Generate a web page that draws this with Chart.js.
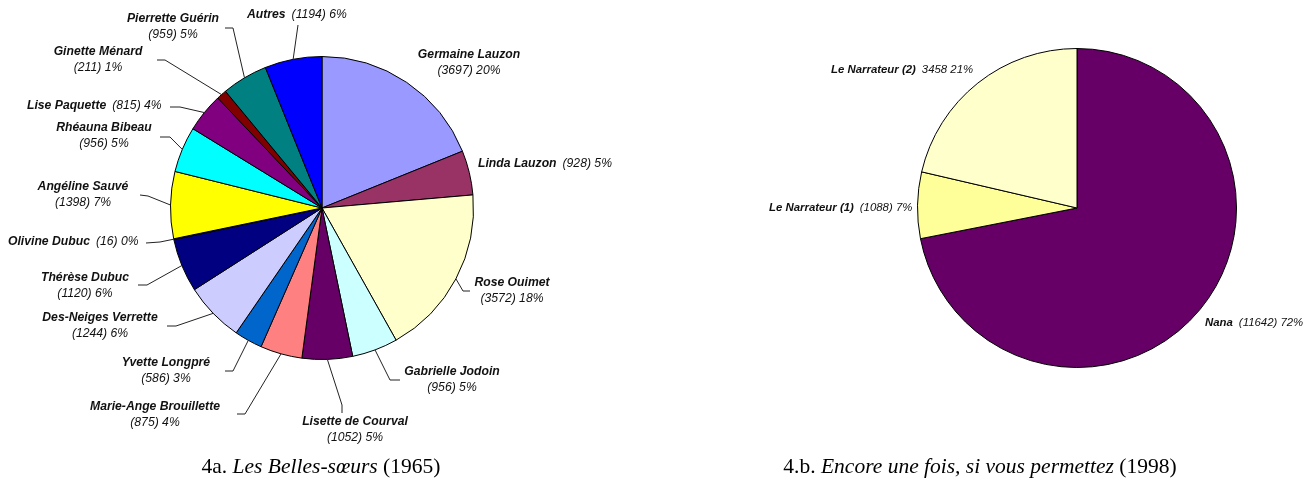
<!DOCTYPE html>
<html>
<head>
<meta charset="utf-8">
<script src="https://cdn.jsdelivr.net/npm/chart.js@4/dist/chart.umd.min.js"></script>
<style>
  html, body { margin: 0; padding: 0; background: #fff; }
  #wrap { position: relative; width: 1307px; height: 483px; overflow: hidden; }
  .box { position: absolute; top: 0; height: 483px; }
  .caption {
    position: absolute; top: 454px; font-family: "Liberation Serif", "DejaVu Serif", serif;
    font-size: 21.5px; color: #000; white-space: nowrap; transform: translateX(-50%);
  }
  .caption i { font-style: italic; }
</style>
</head>
<body>
<div id="wrap">
  <div class="box" style="left:0;width:653px"><canvas id="left"></canvas></div>
  <div class="box" style="left:653px;width:654px"><canvas id="right"></canvas></div>
  <div class="caption" style="left:321px">4a. <i>Les Belles-sœurs</i> (1965)</div>
  <div class="caption" style="left:980px">4.b. <i>Encore une fois, si vous permettez</i> (1998)</div>
</div>
<script>
// ── Data ───────────────────────────────────────────────────

const leftNames = [
  'Germaine Lauzon', 'Linda Lauzon', 'Rose Ouimet', 'Gabrielle Jodoin',
  'Lisette de Courval', 'Marie-Ange Brouillette', 'Yvette Longpré',
  'Des-Neiges Verrette', 'Thérèse Dubuc', 'Olivine Dubuc', 'Angéline Sauvé',
  'Rhéauna Bibeau', 'Lise Paquette', 'Ginette Ménard', 'Pierrette Guérin', 'Autres',
];
const leftValues = [3697, 928, 3572, 956, 1052, 875, 586, 1244, 1120, 16, 1398, 956, 815, 211, 959, 1194];
const leftPcts = [20, 5, 18, 5, 5, 4, 3, 6, 6, 0, 7, 5, 4, 1, 5, 6];
const leftColors = [
  '#9999ff', '#993366', '#ffffcc', '#ccffff', '#660066', '#ff8080', '#0066cc', '#ccccff',
  '#000080', '#ff00ff', '#ffff00', '#00ffff', '#800080', '#800000', '#008080', '#0000ff',
];

const rightNames = ['Nana', 'Le Narrateur (1)', 'Le Narrateur (2)'];
const rightValues = [11642, 1088, 3458];
const rightPcts = [72, 7, 21];
const rightColors = ['#660066', '#ffff99', '#ffffcc'];

// ── Label layout (page coordinates) ───────────────────────
// two: centred name / value lines; one: single line starting at x
// lead: elbow points from the label side towards the slice edge

const leftLayout = [
  { two: true, x: 469, y: 55 },
  { one: true, x: 478, y: 164 },
  { two: true, x: 512, y: 283, lead: [[470, 291], [463, 291]] },
  { two: true, x: 452, y: 372, lead: [[400, 380], [390, 380]] },
  { two: true, x: 355, y: 422, lead: [[342, 413], [342, 405]] },
  { two: true, x: 155, y: 407, lead: [[237, 414], [245, 414]] },
  { two: true, x: 166, y: 363, lead: [[225, 371], [233, 371]] },
  { two: true, x: 100, y: 318, lead: [[167, 326], [176, 326]] },
  { two: true, x: 85, y: 278, lead: [[138, 285], [147, 285]] },
  { one: true, x: 8, y: 242, lead: [[146, 243], [160, 242]] },
  { two: true, x: 83, y: 187, lead: [[140, 195], [148, 196]] },
  { two: true, x: 104, y: 128, lead: [[160, 137], [170, 137]] },
  { one: true, x: 27, y: 106, lead: [[170, 107], [180, 107]] },
  { two: true, x: 98, y: 52, lead: [[157, 60], [165, 60]] },
  { two: true, x: 173, y: 19, lead: [[225, 28], [233, 28]] },
  { one: true, x: 247, y: 15, lead: [[298, 25]] },
];

const rightLayout = [
  { one: true, x: 1205, y: 323 },
  { one: true, x: 769, y: 208 },
  { one: true, x: 831, y: 70, bare: true },
];

// ── Label plugin ───────────────────────────────────────────

const FONT_FAMILY = '"Liberation Sans", Arial, sans-serif';

const pieLabels = {
  id: 'pieLabels',
  afterDraw(chart, args, opts) {
    const ctx = chart.ctx;
    const meta = chart.getDatasetMeta(0);
    const off = opts.offsetX;
    const values = chart.data.datasets[0].data;
    const nameFont = `italic bold ${opts.size}px ${FONT_FAMILY}`;
    const valFont = `italic ${opts.size}px ${FONT_FAMILY}`;
    ctx.save();
    ctx.fillStyle = '#111';
    ctx.strokeStyle = '#222';
    ctx.lineWidth = 1;
    ctx.textBaseline = 'middle';
    opts.layout.forEach((lay, i) => {
      const arc = meta.data[i];
      const name = opts.names[i];
      const val = lay.bare ? `${values[i]} ${opts.pcts[i]}%` : `(${values[i]}) ${opts.pcts[i]}%`;

      if (lay.lead) {
        const mid = (arc.startAngle + arc.endAngle) / 2;
        const ax = arc.x + Math.cos(mid) * arc.outerRadius;
        const ay = arc.y + Math.sin(mid) * arc.outerRadius;
        ctx.beginPath();
        ctx.moveTo(lay.lead[0][0] - off, lay.lead[0][1]);
        lay.lead.slice(1).forEach(p => ctx.lineTo(p[0] - off, p[1]));
        ctx.lineTo(ax, ay);
        ctx.stroke();
      }

      if (lay.two) {
        ctx.textAlign = 'center';
        ctx.font = nameFont;
        ctx.fillText(name, lay.x - off, lay.y);
        ctx.font = valFont;
        ctx.fillText(val, lay.x - off, lay.y + 16);
      } else {
        ctx.textAlign = 'left';
        ctx.font = nameFont;
        ctx.fillText(name, lay.x - off, lay.y);
        const w = ctx.measureText(name).width;
        ctx.font = valFont;
        ctx.fillText(val, lay.x - off + w + 6, lay.y);
      }
    });
    ctx.restore();
  },
};

function makePie(id, names, values, pcts, colors, layout, offsetX, size, padding) {
  return new Chart(document.getElementById(id), {
    type: 'pie',
    data: {
      labels: names,
      datasets: [{
        data: values,
        backgroundColor: colors,
        borderColor: '#000',
        borderWidth: 1,
        hoverOffset: 0,
      }],
    },
    options: {
      responsive: true,
      maintainAspectRatio: false,
      animation: false,
      layout: { padding },
      plugins: {
        legend: { display: false },
        tooltip: { enabled: false },
        pieLabels: { layout, names, pcts, offsetX, size },
      },
    },
    plugins: [pieLabels],
  });
}

makePie('left', leftNames, leftValues, leftPcts, leftColors, leftLayout, 0, 12.2,
  { left: 170, right: 179, top: 56, bottom: 123 });
makePie('right', rightNames, rightValues, rightPcts, rightColors, rightLayout, 653, 11.4,
  { left: 264, right: 70, top: 48, bottom: 115 });
</script>
</body>
</html>
